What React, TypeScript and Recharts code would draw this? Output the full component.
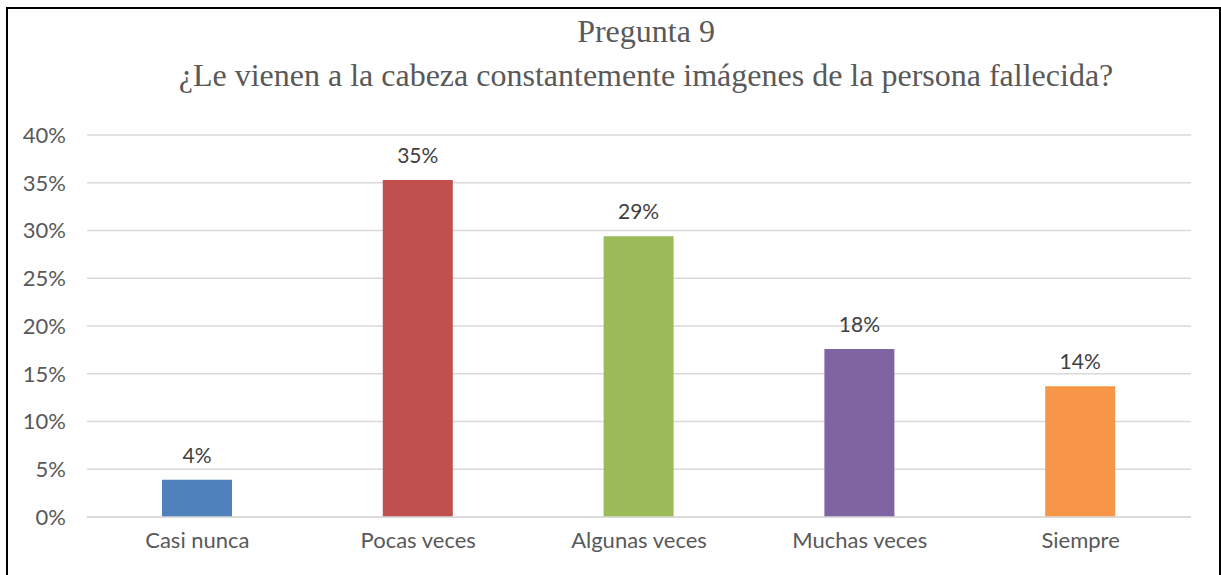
import React from 'react';
import { BarChart, Bar, XAxis, YAxis, CartesianGrid, LabelList, Cell } from 'recharts';

const categories = ['Casi nunca', 'Pocas veces', 'Algunas veces', 'Muchas veces', 'Siempre'];
const values = [0.039, 0.353, 0.294, 0.176, 0.137];
const barColors = ['#4F81BD', '#C0504D', '#9BBB59', '#8064A2', '#F79646'];
const yTicks = [0, 0.05, 0.1, 0.15, 0.2, 0.25, 0.3, 0.35, 0.4];
const titleLines = ['Pregunta 9', '¿Le vienen a la cabeza constantemente imágenes de la persona fallecida?'];

const data = categories.map((name, i) => ({ name, value: values[i] }));

const pct = (v: number) => `${Math.round(v * 100)}%`;
const font = 'Lato, "Open Sans", sans-serif';

export default function App() {
  return (
    <div style={{ position: 'absolute', left: 0, top: 0, width: 1221, height: 575, background: '#fff' }}>
      <div
        style={{
          position: 'absolute',
          left: 6,
          top: 7,
          width: 1211,
          height: 570,
          border: '2px solid #000',
        }}
      />
      <svg width={1221} height={100} style={{ position: 'absolute', left: 0, top: 0 }}>
        <text x={646} y={42} textAnchor="middle" fill="#595959" fontSize={32} fontFamily='"Liberation Serif", serif'>
          {titleLines[0]}
        </text>
        <text x={646} y={86} textAnchor="middle" fill="#595959" fontSize={32} fontFamily='"Liberation Serif", serif'>
          {titleLines[1]}
        </text>
      </svg>
      <div style={{ position: 'absolute', left: 0, top: 0 }}>
        <BarChart
          width={1221}
          height={575}
          data={data}
          margin={{ top: 135, right: 30, left: 0, bottom: 18 }}
        >
          <CartesianGrid vertical={false} stroke="#d9d9d9" strokeWidth={1.5} />
          <XAxis
            dataKey="name"
            height={40}
            axisLine={{ stroke: '#d9d9d9', strokeWidth: 1.5 }}
            tickLine={false}
            tickMargin={9}
            tick={{ fill: '#595959', fontSize: 22, fontFamily: font }}
          />
          <YAxis
            width={87}
            domain={[0, 0.4]}
            ticks={yTicks}
            tickFormatter={pct}
            axisLine={false}
            tickLine={false}
            tickMargin={15}
            tick={{ fill: '#595959', fontSize: 22, fontFamily: font }}
          />
          <Bar dataKey="value" barSize={70} isAnimationActive={false}>
            {data.map((d, i) => (
              <Cell key={d.name} fill={barColors[i]} />
            ))}
            <LabelList
              dataKey="value"
              position="top"
              offset={17}
              formatter={(v: number) => pct(v)}
              style={{ fill: '#404040', fontSize: 21, fontFamily: font }}
            />
          </Bar>
        </BarChart>
      </div>
    </div>
  );
}
